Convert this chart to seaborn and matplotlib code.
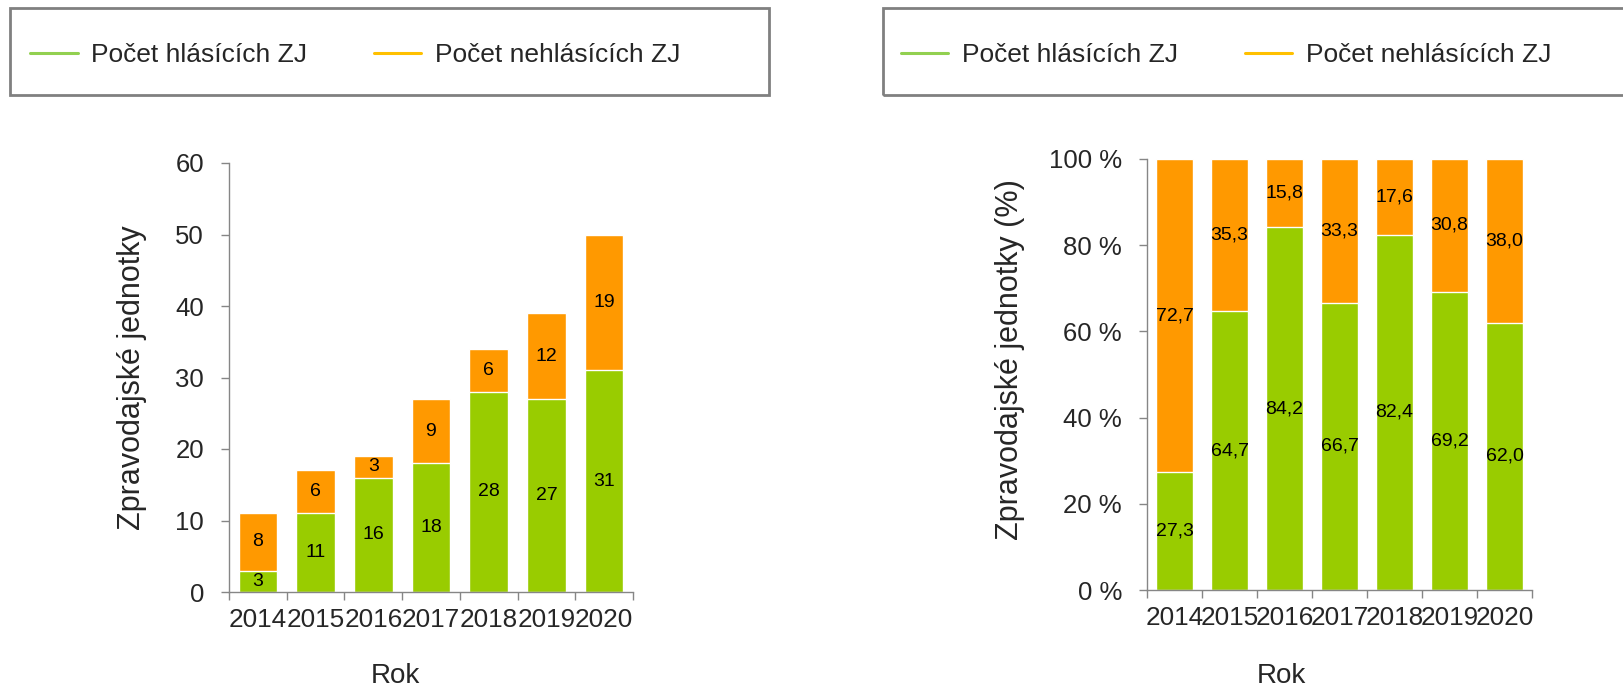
import numpy as np
import pandas as pd
import matplotlib
matplotlib.use("Agg")
import matplotlib.pyplot as plt
from matplotlib.lines import Line2D
from matplotlib.patches import Rectangle
from matplotlib.ticker import FixedLocator, FuncFormatter
import seaborn as sns

# data
roky = ["2014", "2015", "2016", "2017", "2018", "2019", "2020"]
hlasici = [3, 11, 16, 18, 28, 27, 31]
nehlasici = [8, 6, 3, 9, 6, 12, 19]
hlasici_pct = [27.3, 64.7, 84.2, 66.7, 82.4, 69.2, 62.0]
nehlasici_pct = [72.7, 35.3, 15.8, 33.3, 17.6, 30.8, 38.0]
nazvy = ["Počet hlásících ZJ", "Počet nehlásících ZJ"]

ZELEN = "#99CC00"
ORANZ = "#FF9900"
ZELEN_LEG = "#92D050"
ORANZ_LEG = "#FFC000"
SEDA = "#868686"

sns.set_style("ticks")
plt.rcParams["font.family"] = ["Liberation Sans", "DejaVu Sans"]

W, H = 1623, 695
fig = plt.figure(figsize=(W / 100, H / 100), dpi=100)
ax1 = fig.add_axes([229 / W, (H - 592) / H, 404 / W, 429 / H])
ax2 = fig.add_axes([1147 / W, (H - 590) / H, 385 / W, 431 / H])


def stacked(ax, dole, nahore, fmt):
    df = pd.DataFrame({"Rok": roky, "dole": dole, "nahore": nahore})
    df["celkem"] = df["dole"] + df["nahore"]
    sns.barplot(data=df, x="Rok", y="celkem", color=ORANZ, saturation=1,
                width=0.67, errorbar=None, ax=ax)
    sns.barplot(data=df, x="Rok", y="dole", color=ZELEN, saturation=1,
                width=0.67, errorbar=None, ax=ax)
    for i, (d, n) in enumerate(zip(dole, nahore)):
        ax.text(i, d / 2, fmt(d), ha="center", va="center", fontsize=14, color="black")
        ax.text(i, d + n / 2, fmt(n), ha="center", va="center", fontsize=14, color="black")

    ax.set_xlim(-0.5, 6.5)
    ax.xaxis.set_minor_locator(FixedLocator(np.arange(-0.5, 7, 1)))
    ax.tick_params(axis="x", which="major", length=0, pad=11.5, labelsize=18.8)
    ax.tick_params(axis="x", which="minor", length=6, width=1, color=SEDA, direction="out")
    ax.tick_params(axis="y", length=6, width=1, color=SEDA, pad=12, labelsize=18.5, direction="out")
    sns.despine(ax=ax)
    for s in ["left", "bottom"]:
        ax.spines[s].set_color(SEDA)
        ax.spines[s].set_linewidth(1)


stacked(ax1, hlasici, nehlasici, lambda v: f"{v:d}")
ax1.set_ylim(0, 60)
ax1.set_yticks(range(0, 61, 10))
ax1.set_xlabel("Rok", fontsize=20)
ax1.xaxis.set_label_coords(0.413, -0.165)
ax1.set_ylabel("Zpravodajské jednotky", fontsize=22, va="center")
ax1.yaxis.set_label_coords(-0.239, 0.5)

stacked(ax2, hlasici_pct, nehlasici_pct, lambda v: f"{v:.1f}".replace(".", ","))
ax2.set_ylim(0, 100)
ax2.set_yticks(range(0, 101, 20))
ax2.yaxis.set_major_formatter(FuncFormatter(lambda v, p: f"{v:.0f} %"))
ax2.set_xlabel("Rok", fontsize=20)
ax2.xaxis.set_label_coords(0.35, -0.169)
ax2.set_ylabel("Zpravodajské jednotky (%)", fontsize=22, va="center")
ax2.yaxis.set_label_coords(-0.356, 0.534)

# legends in framed boxes above each chart
handles = [Line2D([], [], color=ZELEN_LEG, lw=2.2), Line2D([], [], color=ORANZ_LEG, lw=2.2)]
for x_box, w_box, x_leg in [(10, 759, 30), (883, 760, 901)]:
    fig.patches.append(Rectangle((x_box / W, (H - 95) / H), w_box / W, 87 / H,
                                 transform=fig.transFigure, fill=False,
                                 edgecolor="#808080", linewidth=2, clip_on=False))
    fig.legend(handles, nazvy, loc="center left", bbox_to_anchor=(x_leg / W, 1 - 55 / H),
               ncol=2, frameon=False, fontsize=19, handlelength=1.8, handletextpad=0.5,
               columnspacing=2.55, borderpad=0, borderaxespad=0)

fig.savefig("out.png", dpi=100, facecolor="white")
